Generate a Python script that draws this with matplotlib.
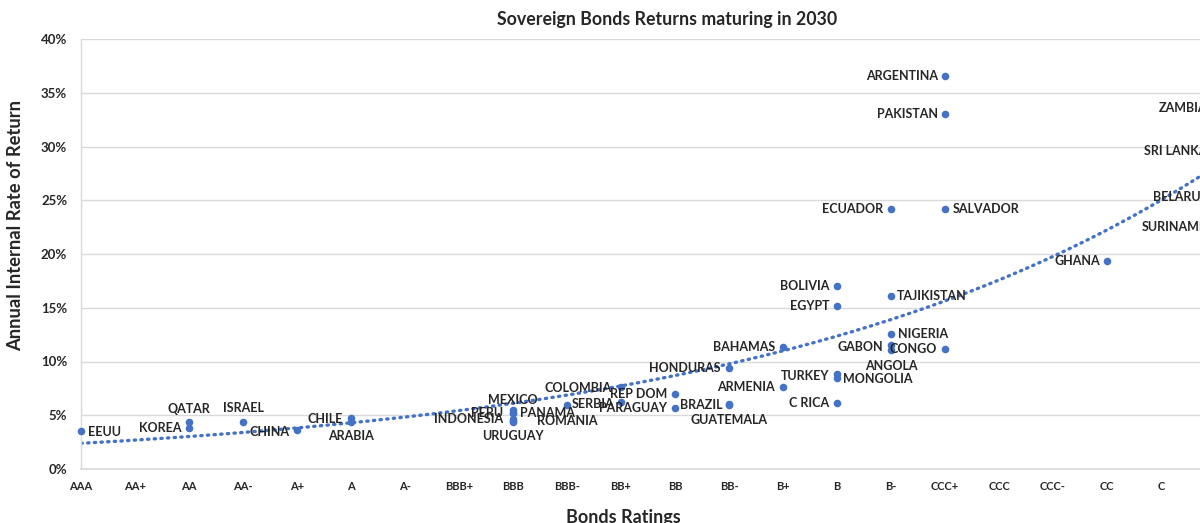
import numpy as np
import matplotlib
matplotlib.use('Agg')
import matplotlib.pyplot as plt
from matplotlib.ticker import PercentFormatter

ratings = ['AAA', 'AA+', 'AA', 'AA-', 'A+', 'A', 'A-', 'BBB+', 'BBB', 'BBB-',
           'BB+', 'BB', 'BB-', 'B+', 'B', 'B-', 'CCC+', 'CCC', 'CCC-', 'CC', 'C', 'D']

countries = ['EEUU', 'KOREA', 'QATAR', 'ISRAEL', 'CHINA', 'CHILE', 'ARABIA',
             'MEXICO', 'PERU', 'INDONESIA', 'PANAMA', 'ROMANIA', 'URUGUAY',
             'SERBIA', '', 'COLOMBIA', 'REP DOM', 'PARAGUAY', 'BRAZIL', 'GUATEMALA',
             'HONDURAS', 'ARMENIA', 'BAHAMAS', 'BOLIVIA', 'EGYPT', 'TURKEY',
             'MONGOLIA', 'C RICA', 'TAJIKISTAN', 'NIGERIA', 'GABON', 'ANGOLA',
             'ECUADOR', 'CONGO', 'ARGENTINA', 'PAKISTAN', 'SALVADOR', 'GHANA',
             'ZAMBIA', 'SRI LANKA', 'BELARUS', 'SURINAME']

country_rating = ['AAA', 'AA', 'AA', 'AA-', 'A+', 'A', 'A',
                  'BBB', 'BBB', 'BBB', 'BBB', 'BBB', 'BBB',
                  'BBB-', 'BB+', 'BB+', 'BB', 'BB', 'BB-', 'BB-',
                  'BB-', 'B+', 'B+', 'B', 'B', 'B',
                  'B', 'B', 'B-', 'B-', 'B-', 'B-',
                  'B-', 'CCC+', 'CCC+', 'CCC+', 'CCC+', 'CC',
                  'D', 'D', 'D', 'D']

irr = [3.55, 3.85, 4.4, 4.4, 3.65, 4.7, 4.4,
       5.5, 5.2, 4.65, 5.2, 4.45, 4.4,
       6.0, 6.2, 7.65, 6.95, 5.65, 6.05, 6.0,
       9.4, 7.65, 11.35, 17.0, 15.2, 8.8,
       8.5, 6.15, 16.1, 12.6, 11.5, 11.05,
       24.2, 11.2, 36.55, 33.0, 24.2, 19.35,
       33.6, 29.6, 25.3, 22.5]

# exponential trendline shown in the chart (y = a * exp(b * rating index))
trend_a = 2.125
trend_b = 0.1174

# label placement: (dx px, dy px downward, horizontal alignment)
placement = [(7, 1, 'left'), (-8, 0, 'right'), (0, -13, 'center'), (0, -14, 'center'),
             (-8, 2, 'right'), (-8, 1, 'right'), (0, 14, 'center'),
             (0, -10, 'center'), (-10, 0, 'right'), (-10, 0, 'right'), (7, 0, 'left'),
             (24, 0, 'left'), (0, 14, 'center'),
             (5, -1, 'left'), (0, 0, 'center'), (-9, 1, 'right'), (-8, 0, 'right'),
             (-8, 0, 'right'), (-7, 1, 'right'), (0, 16, 'center'),
             (-8, 0, 'right'), (-8, 0, 'right'), (-8, 0, 'right'), (-8, 0, 'right'),
             (-8, 0, 'right'), (-8, 2, 'right'),
             (6, 1, 'left'), (-8, 0, 'right'), (6, 0, 'left'), (7, 0, 'left'),
             (-8, 2, 'right'), (0, 16, 'center'),
             (-8, 0, 'right'), (-8, 0, 'right'), (-7, 0, 'right'), (-7, 0, 'right'),
             (8, 0, 'left'), (-7, 0, 'right'),
             (-8, 0, 'right'), (-8, 0, 'right'), (-8, 0, 'right'), (-8, 0, 'right')]

FONT = 'Lato'
BLUE = '#4472C4'
GRID = '#D9D9D9'
TXT = '#262626'

W, H = 1200, 523
fig = plt.figure(figsize=(W / 100, H / 100), dpi=100)
ax = fig.add_axes([81 / W, 54 / H, 22 * 54 / W, 430 / H])

xpos = np.array([ratings.index(r) + 1 for r in country_rating], dtype=float)
yval = np.array(irr, dtype=float)

ax.scatter(xpos, yval, s=30, color=BLUE, zorder=3, linewidths=0, clip_on=False)

xt = np.linspace(1, len(ratings), 300)
ax.plot(xt, trend_a * np.exp(trend_b * xt), color=BLUE, lw=2.4,
        linestyle=(0, (0.4, 1.6)), dash_capstyle='round', zorder=2)

for name, x, y, (dx, dy, ha) in zip(countries, xpos, yval, placement):
    if not name:
        continue
    ax.annotate(name, (x, y), xytext=(dx, -dy), textcoords='offset pixels',
                ha=ha, va='center', fontsize=9, fontweight='bold',
                family=FONT, color=TXT, zorder=4, annotation_clip=False)

ax.set_xlim(1, 23)
ax.set_ylim(0, 40)
ax.set_yticks(np.arange(0, 41, 5))
ax.yaxis.set_major_formatter(PercentFormatter(decimals=0))
ax.set_xticks(np.arange(1, len(ratings) + 1))
ax.set_xticklabels(ratings)
ax.grid(axis='y', color=GRID, lw=1)
ax.set_axisbelow(True)
for s in ['top', 'right']:
    ax.spines[s].set_visible(False)
ax.spines['left'].set_color(GRID)
ax.spines['bottom'].set_color(GRID)
ax.spines['left'].set_linewidth(1)
ax.spines['bottom'].set_linewidth(1.2)
ax.tick_params(axis='y', length=0, pad=10, labelsize=9.5, labelcolor=TXT)
ax.tick_params(axis='x', length=0, pad=9, labelsize=8, labelcolor=TXT)
for lab in ax.get_xticklabels() + ax.get_yticklabels():
    lab.set_fontweight('bold')
    lab.set_family(FONT)

fig.text(667 / W, 1 - 20 / H, 'Sovereign Bonds Returns maturing in 2030',
         ha='center', va='center', fontsize=12.8, fontweight='bold',
         family=FONT, color=TXT)
fig.text(16 / W, 1 - 226 / H, 'Annual Internal Rate of Return', rotation=90,
         ha='center', va='center', fontsize=13.2, fontweight='bold',
         family=FONT, color=TXT)
fig.text(623 / W, 1 - 517 / H, 'Bonds Ratings', ha='center', va='center',
         fontsize=13, fontweight='bold', family=FONT, color=TXT)

fig.savefig('out.png', dpi=100)
